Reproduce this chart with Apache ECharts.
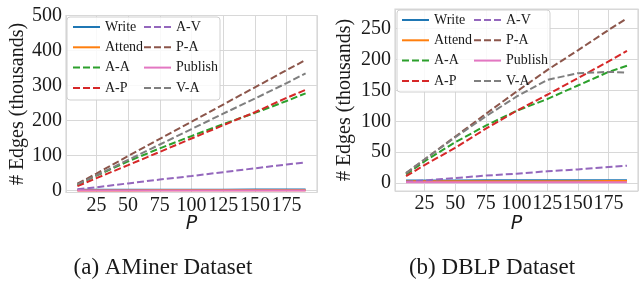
<html>
<head>
<meta charset="UTF-8">
<script src="https://cdn.jsdelivr.net/npm/echarts@6/dist/echarts.min.js"></script>
<style>
  html, body { margin: 0; padding: 0; background: #fff; }
  #chart { width: 641px; height: 282px; }
</style>
</head>
<body>
<div id="chart"></div>
<script>
// x values (P) shared by both panels
const P = [10, 25, 50, 75, 100, 125, 150, 175, 190];

// (a) AMiner, edges in thousands
const aminerWrite   = [2.5, 2.6, 2.8, 3.0, 3.1, 3.2, 3.3, 3.4, 3.5];
const aminerAttend  = [0.8, 0.9, 1.0, 1.1, 1.2, 1.3, 1.4, 1.5, 1.5];
const aminerAA      = [17, 43, 84, 121, 156, 190, 222, 256, 278];
const aminerAP      = [13, 36, 73, 111, 149, 187, 224, 265, 288];
const aminerAV      = [4, 10, 21, 32, 42, 53, 64, 75, 81];
const aminerPA      = [20, 49, 99, 148, 197, 246, 295, 344, 373];
const aminerPublish = [0.5, 0.5, 0.6, 0.6, 0.7, 0.7, 0.8, 0.8, 0.8];
const aminerVA      = [18, 44, 88, 132, 176, 220, 263, 307, 335];

// (b) DBLP, edges in thousands
const dblpWrite   = [4.0, 4.1, 4.2, 4.3, 4.4, 4.5, 4.5, 4.6, 4.6];
const dblpAttend  = [2.8, 2.8, 2.9, 2.9, 3.0, 3.0, 3.0, 3.1, 3.1];
const dblpAA      = [14, 35, 66, 93, 117, 136, 158, 180, 190];
const dblpAP      = [11, 29, 57, 88, 117, 143, 170, 197, 214];
const dblpAV      = [2, 4, 8, 12, 15, 19, 22, 26, 28];
const dblpPA      = [16, 38, 75, 112, 148, 183, 215, 248, 267];
const dblpPublish = [1.0, 1.0, 1.0, 1.1, 1.1, 1.1, 1.2, 1.2, 1.2];
const dblpVA      = [16, 38, 74, 108, 140, 167, 178, 180, 179];

const names  = ['Write', 'Attend', 'A-A', 'A-P', 'A-V', 'P-A', 'Publish', 'V-A'];
const colors = ['#1f77b4', '#ff7f0e', '#2ca02c', '#d62728', '#9467bd', '#8c564b', '#e377c2', '#7f7f7f'];
const dashed = [false, false, true, true, true, true, false, true];
const legendCol1 = ['Write', 'Attend', 'A-A', 'A-P'];
const legendCol2 = ['A-V', 'P-A', 'Publish', 'V-A'];

const aminer = [aminerWrite, aminerAttend, aminerAA, aminerAP, aminerAV, aminerPA, aminerPublish, aminerVA];
const dblp   = [dblpWrite, dblpAttend, dblpAA, dblpAP, dblpAV, dblpPA, dblpPublish, dblpVA];

const serif = 'Liberation Serif';
const ink = '#1a1a1a';
const gridCol = '#d8d8d8';

function makeSeries(values, idx) {
  return names.map((n, i) => ({
    name: n,
    type: 'line',
    xAxisIndex: idx,
    yAxisIndex: idx,
    symbol: 'none',
    silent: true,
    data: P.map((p, k) => [p, values[i][k]]),
    lineStyle: { color: colors[i], width: 2, type: dashed[i] ? [7, 3] : 'solid' },
    itemStyle: { color: colors[i] }
  }));
}

function xAxis(idx) {
  return {
    type: 'value', gridIndex: idx, min: 1, max: 199,
    minInterval: 25, maxInterval: 25, splitNumber: 8,
    name: 'P', nameLocation: 'middle', nameGap: idx === 0 ? 22 : 24,
    nameMoveOverlap: false,
    nameTextStyle: { fontFamily: 'DejaVu Sans', fontStyle: 'italic', fontSize: 19, color: ink },
    axisLine: { show: false }, axisTick: { show: false },
    axisLabel: {
      margin: 3, fontFamily: serif, fontSize: 20, color: ink,
      formatter: v => (v % 25 === 0 ? String(v) : '')
    },
    splitLine: { show: true, lineStyle: { color: gridCol, width: 1 } }
  };
}

function yAxis(idx, min, max, step) {
  return {
    type: 'value', gridIndex: idx, min: min, max: max,
    minInterval: step, maxInterval: step, splitNumber: 6,
    name: '# Edges (thousands)', nameLocation: 'middle', nameRotate: 90,
    nameGap: idx === 0 ? 38 : 40,
    nameTextStyle: { fontFamily: serif, fontSize: 20, color: ink },
    axisLine: { show: false }, axisTick: { show: false },
    axisLabel: {
      margin: 4, fontFamily: serif, fontSize: 20, color: ink,
      formatter: v => (v % step === 0 ? String(v) : '')
    },
    splitLine: { show: true, lineStyle: { color: gridCol, width: 1 } }
  };
}

function legend(data, left, top) {
  return {
    data: data, orient: 'vertical', left: left, top: top, padding: 0,
    itemWidth: 27, itemHeight: 14, itemGap: 6.3,
    selectedMode: false,
    itemStyle: { opacity: 0 },
    textStyle: { fontFamily: serif, fontSize: 14, color: ink, lineHeight: 14 }
  };
}

const chart = echarts.init(document.getElementById('chart'), null, { renderer: 'canvas' });
chart.setOption({
  animation: false,
  backgroundColor: '#fff',
  grid: [
    { left: 66, top: 15.5, width: 251, height: 177, show: true, borderColor: gridCol, borderWidth: 1.2 },
    { left: 395, top: 9, width: 251, height: 182, show: true, borderColor: gridCol, borderWidth: 1.2 }
  ],
  xAxis: [xAxis(0), xAxis(1)],
  yAxis: [yAxis(0, -5, 500, 100), yAxis(1, -13, 282, 50)],
  legend: [
    legend(legendCol1, 72, 20), legend(legendCol2, 143, 20),
    legend(legendCol1, 401, 13), legend(legendCol2, 473, 13)
  ],
  graphic: [
    { type: 'rect', z: 3, shape: { x: 67, y: 17, width: 153, height: 83, r: 3 },
      style: { fill: 'rgba(255,255,255,0.85)', stroke: '#d0d0d0', lineWidth: 1 } },
    { type: 'rect', z: 3, shape: { x: 397, y: 10, width: 153, height: 82, r: 3 },
      style: { fill: 'rgba(255,255,255,0.85)', stroke: '#d0d0d0', lineWidth: 1 } },
    { type: 'text', x: 163, y: 268,
      style: { text: '(a) AMiner Dataset', font: '23px "Liberation Serif"', fill: ink, textAlign: 'center', textVerticalAlign: 'middle' } },
    { type: 'text', x: 492, y: 268,
      style: { text: '(b) DBLP Dataset', font: '23px "Liberation Serif"', fill: ink, textAlign: 'center', textVerticalAlign: 'middle' } }
  ],
  series: makeSeries(aminer, 0).concat(makeSeries(dblp, 1))
});
</script>
</body>
</html>
